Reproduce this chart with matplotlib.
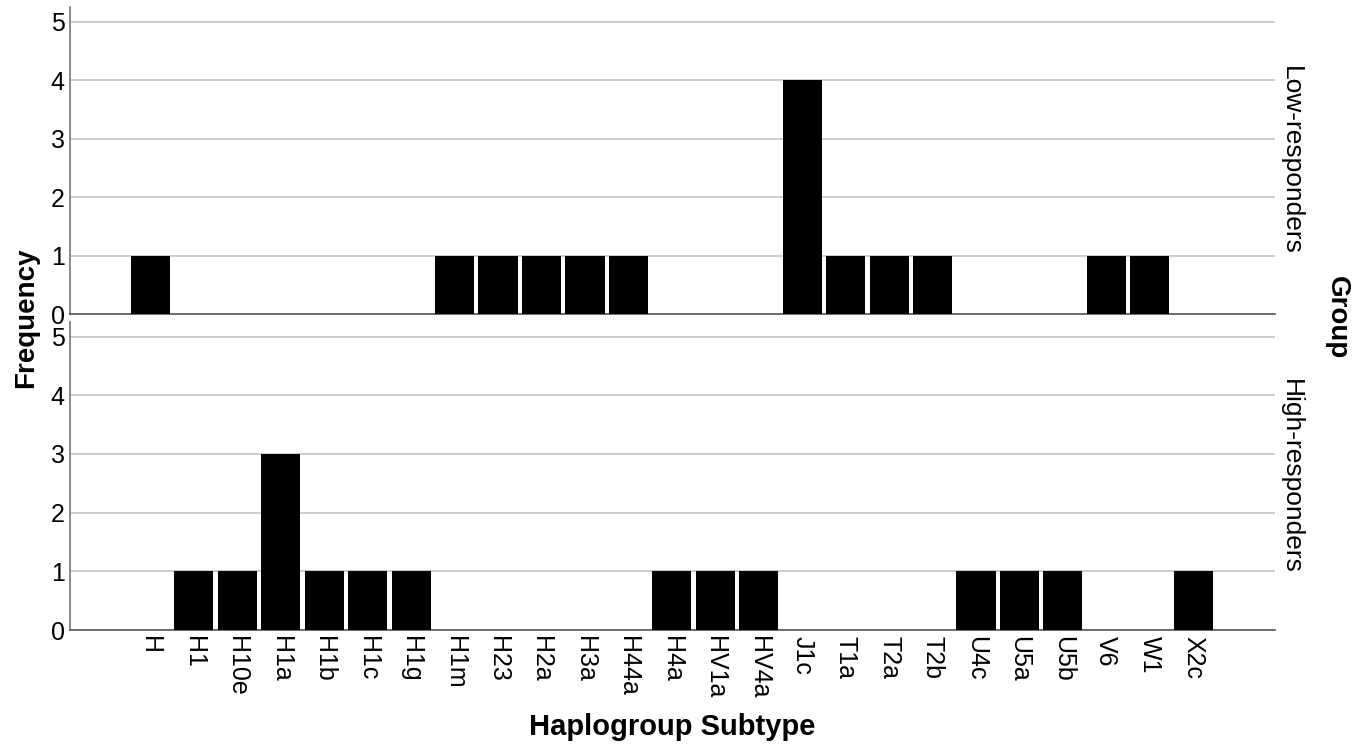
import matplotlib.pyplot as plt
import numpy as np

plt.rcParams['font.family'] = ['Liberation Sans', 'DejaVu Sans']

subtypes = ['H', 'H1', 'H10e', 'H1a', 'H1b', 'H1c', 'H1g', 'H1m', 'H23',
            'H2a', 'H3a', 'H44a', 'H4a', 'HV1a', 'HV4a', 'J1c', 'T1a',
            'T2a', 'T2b', 'U4c', 'U5a', 'U5b', 'V6', 'W1', 'X2c']
low_freq = [1, 0, 0, 0, 0, 0, 0, 1, 1, 1, 1, 1, 0, 0, 0, 4, 1, 1, 1,
            0, 0, 0, 1, 1, 0]
high_freq = [0, 1, 1, 3, 1, 1, 1, 0, 0, 0, 0, 0, 1, 1, 1, 0, 0, 0, 0,
             1, 1, 1, 0, 0, 1]
groups = ['Low-responders', 'High-responders']


def drawPanel(ax, values, label):
    x = np.arange(len(subtypes))
    ax.bar(x, values, width=0.9, color='black', zorder=3)
    ax.set_xlim(-1.85, len(subtypes) - 1 + 1.88)
    ax.set_ylim(0, 5.25)
    ax.set_yticks(range(0, 6))
    ax.yaxis.grid(True, color='#c8c8c8', linewidth=1.3, zorder=0)
    ax.tick_params(axis='both', length=0, labelsize=18, pad=4)
    for side in ['top', 'right']:
        ax.spines[side].set_visible(False)
    ax.spines['left'].set_color('#777777')
    ax.spines['bottom'].set_color('#555555')
    ax.spines['left'].set_linewidth(1.2)
    ax.spines['bottom'].set_linewidth(1.2)
    ax.text(1.003, 0.5, label, transform=ax.transAxes, rotation=-90,
            ha='left', va='center', fontsize=19)


fig = plt.figure(figsize=(13.63, 7.5), dpi=100)
ax1 = fig.add_axes([0.0514, 0.5813, 0.884, 0.4094])
ax2 = fig.add_axes([0.0514, 0.16, 0.884, 0.4107])

drawPanel(ax1, low_freq, groups[0])
drawPanel(ax2, high_freq, groups[1])

ax1.set_xticks([])
ax2.set_xticks(np.arange(len(subtypes)))
ax2.set_xticklabels(subtypes, rotation=-90, fontsize=18)

fig.text(0.019, 0.576, 'Frequency', rotation=90, ha='center', va='center',
         fontsize=20, fontweight='bold')
fig.text(0.981, 0.576, 'Group', rotation=-90, ha='center', va='center',
         fontsize=20, fontweight='bold')
fig.text(0.493, 0.031, 'Haplogroup Subtype', ha='center', va='center',
         fontsize=21, fontweight='bold')

fig.savefig('out.png', dpi=100)
